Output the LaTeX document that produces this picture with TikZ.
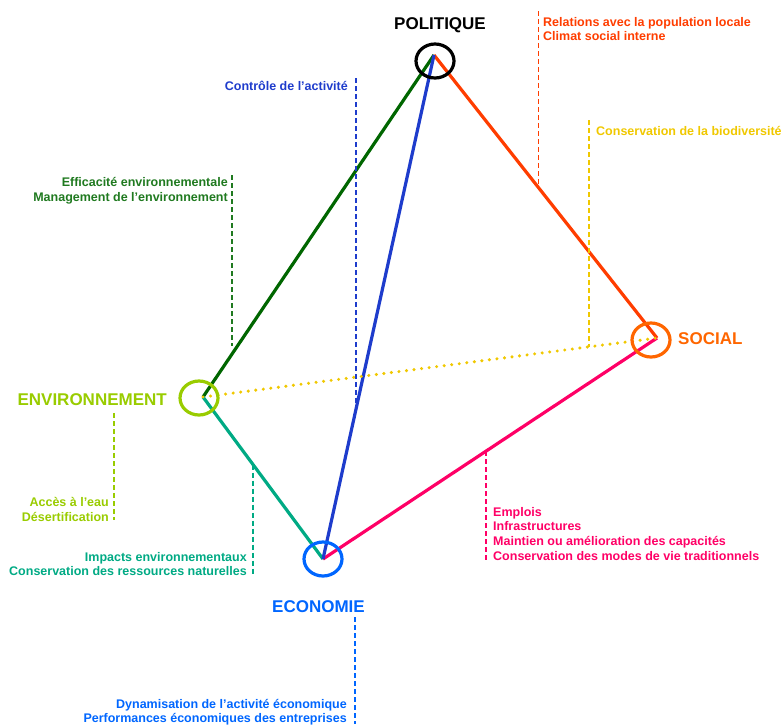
\documentclass[tikz,border=0pt]{standalone}
\usepackage{fontspec}
\setmainfont{Liberation Sans}
\usetikzlibrary{shapes.geometric}
\definecolor{envdark}{HTML}{006600}
\definecolor{effgreen}{HTML}{207A20}
\definecolor{envgreen}{HTML}{99CC00}
\definecolor{envteal}{HTML}{00AA84}
\definecolor{polblue}{HTML}{1E3CCC}
\definecolor{polred}{HTML}{FF3D00}
\definecolor{socorange}{HTML}{FF6600}
\definecolor{soclink}{HTML}{FF0066}
\definecolor{bioyellow}{HTML}{F0C800}
\definecolor{ecoblue}{HTML}{0066FF}
\begin{document}
\begin{tikzpicture}[x=1pt, y=-1pt, font=\bfseries\fontsize{12.5}{14.7}\selectfont,
      ring/.style={draw=#1, shape=ellipse, line width=3.2pt, minimum width=38pt, minimum height=34pt, inner sep=0pt},
      side/.style={draw=#1, line width=3.2pt},
      lead/.style={draw=#1, line width=1.2pt, dash pattern=on 5pt off 3pt},
      notel/.style={text=#1, inner sep=0pt, align=right, anchor=north east},
      noter/.style={text=#1, inner sep=0pt, align=left, anchor=north west},
      pole/.style={text=#1, font=\bfseries\fontsize{17}{20}\selectfont, inner sep=0pt}]
    \useasboundingbox (0,0) rectangle (782,724);
    \coordinate (pol) at (434,55);
    \coordinate (soc) at (657,338);
    \coordinate (env) at (203,397);
    \coordinate (eco) at (323,559);
    \draw[side=envdark] (env) -- (pol);
    \draw[side=polred] (pol) -- (soc);
    \draw[side=soclink] (soc) -- (eco);
    \draw[side=envteal] (env) -- (eco);
    \draw[side=polblue] (pol) -- (eco);
    \draw[bioyellow, line width=3.4pt, line cap=round, dash pattern=on 0pt off 7.6pt] (env) -- (soc);
    \node[ring=black] (polring) at (435,61) {};
    \node[ring=socorange] (socring) at (651,340) {};
    \node[ring=envgreen] (envring) at (199,398) {};
    \node[ring=ecoblue] (ecoring) at (323,559) {};
    \node[pole=black, anchor=base] (pollbl) at (440,29) {POLITIQUE};
    \node[pole=socorange, anchor=base west] (soclbl) at (678,344) {SOCIAL};
    \node[pole=envgreen, anchor=base east] (envlbl) at (167,405) {ENVIRONNEMENT};
    \node[pole=ecoblue, anchor=base east] (ecolbl) at (365,612.5) {ECONOMIE};
    \path (pol) -- (soc) coordinate[pos=0.469] (polsoc);
    \path (pol) -- (eco) coordinate[pos=0.69] (poleco);
    \path (pol) -- (env) coordinate[pos=0.85] (polenv);
    \path (env) -- (soc) coordinate[pos=0.85] (envsoc);
    \path (soc) -- (eco) coordinate[pos=0.512] (soceco);
    \path (env) -- (eco) coordinate[pos=0.417] (enveco);
    \coordinate (reltop) at (538.5,11);
    \coordinate (ctltop) at (356,78);
    \coordinate (efftop) at (232,175);
    \coordinate (biotop) at (589,120);
    \coordinate (acctop) at (114,413);
    \coordinate (accbot) at (114,520);
    \coordinate (impbot) at (253,575);
    \coordinate (empbot) at (486,560);
    \coordinate (dyntop) at (355,617);
    \coordinate (dynbot) at (355,724);
    \draw[lead=polred] (reltop) -- (reltop |- polsoc);
    \draw[lead=polblue] (ctltop) -- (ctltop |- poleco);
    \draw[lead=effgreen] (efftop) -- (efftop |- polenv);
    \draw[lead=bioyellow] (biotop) -- (biotop |- envsoc);
    \draw[lead=envgreen] (acctop) -- (accbot);
    \draw[lead=envteal] (impbot |- enveco) -- (impbot);
    \draw[lead=soclink] (empbot |- soceco) -- (empbot);
    \draw[lead=ecoblue] (dyntop) -- (dynbot);
    \node[noter=polred] (relnote) at (543,17) {Relations avec la population locale\\ Climat social interne};
    \node[notel=polblue] (ctlnote) at (348,81) {Contrôle de l’activité};
    \node[notel=effgreen] (effnote) at (228,177) {Efficacité environnementale\\ Management de l’environnement};
    \node[noter=bioyellow] (bionote) at (596,125.7) {Conservation de la biodiversité};
    \node[notel=envgreen] (accnote) at (109,497) {Accès à l’eau\\ Désertification};
    \node[notel=envteal] (impnote) at (247,552) {Impacts environnementaux\\ Conservation des ressources naturelles};
    \node[noter=soclink] (empnote) at (493,507) {Emplois\\ Infrastructures\\ Maintien ou amélioration des capacités\\ Conservation des modes de vie traditionnels};
    \node[notel=ecoblue] (dynnote) at (347,698.7) {Dynamisation de l’activité économique\\ Performances économiques des entreprises};
  \end{tikzpicture}
\end{document}
